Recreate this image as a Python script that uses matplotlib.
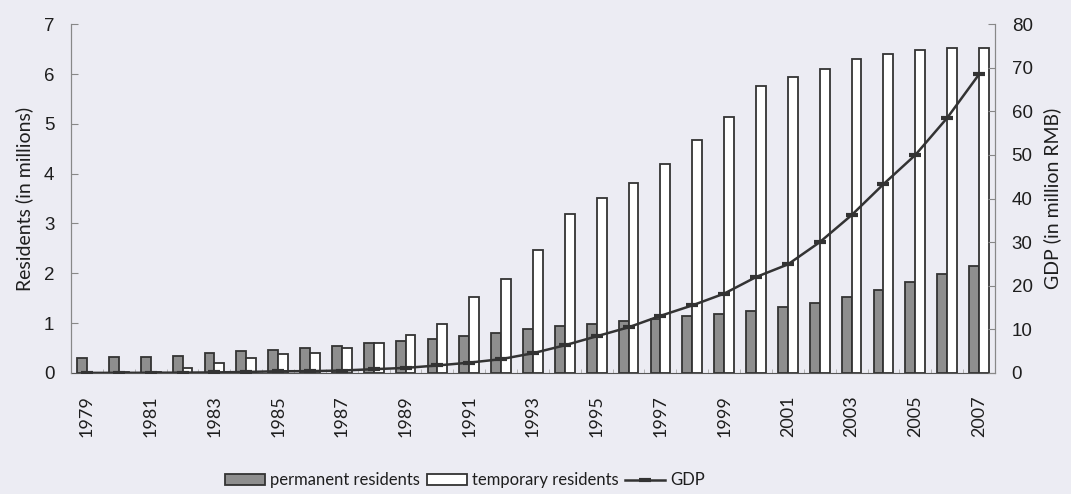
import matplotlib
matplotlib.use("Agg")
import matplotlib.pyplot as plt
import numpy as np

years = list(range(1979, 2008))

# residents in millions (left axis)
permanent = [0.31, 0.32, 0.33, 0.35, 0.40, 0.44, 0.47, 0.51, 0.54, 0.60, 0.64, 0.68,
             0.74, 0.80, 0.88, 0.95, 0.99, 1.04, 1.08, 1.15, 1.19, 1.25, 1.32, 1.40,
             1.52, 1.66, 1.83, 1.98, 2.14]
temporary = [0.00, 0.01, 0.02, 0.10, 0.20, 0.30, 0.39, 0.40, 0.50, 0.60, 0.77, 0.98,
             1.52, 1.89, 2.47, 3.19, 3.51, 3.81, 4.20, 4.68, 5.14, 5.76, 5.94, 6.10,
             6.31, 6.40, 6.49, 6.53, 6.53]

# GDP (right axis)
gdp = [0.02, 0.03, 0.05, 0.08, 0.13, 0.23, 0.39, 0.42, 0.56, 0.87, 1.16, 1.72,
       2.37, 3.17, 4.53, 6.35, 8.42, 10.48, 13.1, 15.5, 18.2, 22.0, 24.9, 30.0,
       36.2, 43.3, 50.0, 58.5, 68.5]

xtick_labels = [str(y) for y in years[::2]]

BG = "#ececf3"
TXT = "#1e1e1e"

fig = plt.figure(figsize=(10.71, 4.94), dpi=100, facecolor=BG)
ax = fig.add_axes([0.0663, 0.245, 0.8627, 0.706], facecolor=BG)
ax2 = ax.twinx()

x = np.arange(len(years))
w = 0.31
ax.bar(x - w / 2, permanent, width=w, color="#8e8e8e", edgecolor="#333333", linewidth=1.3,
       label="permanent residents", zorder=2)
ax.bar(x + w / 2, temporary, width=w, color="white", edgecolor="#333333", linewidth=1.3,
       label="temporary residents", zorder=2)
ax2.plot(x, gdp, color="#333333", linewidth=1.8, marker="_", markersize=8,
         markeredgewidth=3, label="GDP", zorder=3)

ax.set_xlim(-0.5, len(years) - 0.5)
ax.set_ylim(0, 7)
ax2.set_ylim(0, 80)

ax.set_yticks(range(0, 8))
ax2.set_yticks(range(0, 90, 10))
ax.set_xticks(x[::2])
ax.set_xticklabels(xtick_labels, rotation=90, fontfamily="Lato", fontsize=13, color=TXT)
ax.set_xticks(np.arange(-0.5, len(years), 1), minor=True)

for lab in ax.get_yticklabels() + ax2.get_yticklabels():
    lab.set_fontfamily("Liberation Sans")
    lab.set_fontsize(13.5)
    lab.set_color(TXT)

ax.tick_params(axis="y", direction="in", length=5, color="#888888", pad=12)
ax2.tick_params(axis="y", direction="in", length=5, color="#888888", pad=12)
ax.tick_params(axis="x", which="major", length=0, pad=16)
ax.tick_params(axis="x", which="minor", direction="in", length=3, color="#aaaaaa")

for a in (ax, ax2):
    a.spines["top"].set_visible(False)
    a.spines["left"].set_color("#888888")
    a.spines["right"].set_color("#888888")
    a.spines["bottom"].set_color("#555555")
ax2.spines["bottom"].set_visible(False)

ax.set_ylabel("Residents (in millions)", fontfamily="Lato", fontsize=14, color=TXT, labelpad=8)
ax2.set_ylabel("GDP (in million RMB)", fontfamily="Lato", fontsize=14, color=TXT, labelpad=8)

h1, l1 = ax.get_legend_handles_labels()
h2, l2 = ax2.get_legend_handles_labels()
fig.legend(h1 + h2, l1 + l2, loc="center", bbox_to_anchor=(0.434, 0.028), ncol=3,
           frameon=False, prop={"family": "Lato", "size": 12}, handlelength=2.4,
           handleheight=0.6, columnspacing=0.4, handletextpad=0.3, labelcolor=TXT)

fig.savefig("out.png", dpi=100, facecolor=BG)
